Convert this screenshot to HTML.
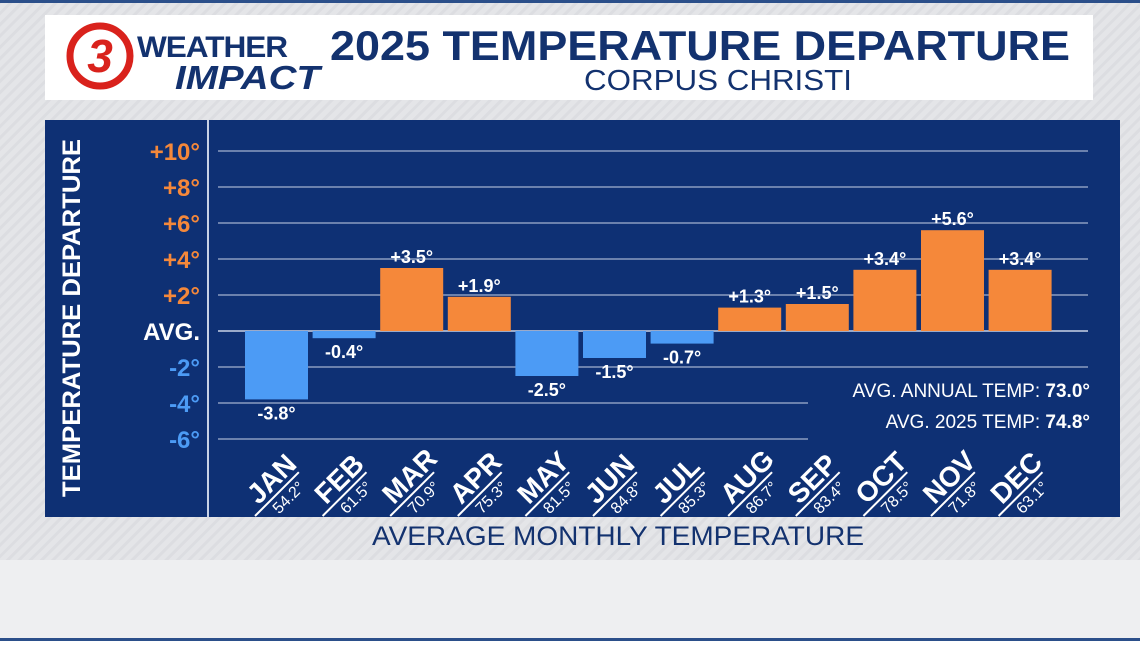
<!DOCTYPE html>
<html><head><meta charset="utf-8"><style>
body{margin:0;width:1140px;height:641px;overflow:hidden;font-family:"Liberation Sans",sans-serif;}
</style></head><body>
<svg width="1140" height="641" xmlns="http://www.w3.org/2000/svg">
<defs><pattern id="st" width="8" height="8" patternUnits="userSpaceOnUse" patternTransform="rotate(45)"><rect width="8" height="8" fill="#e4e5e8"/><rect width="3" height="8" fill="#dcdde1"/></pattern></defs>
<rect width="1140" height="641" fill="url(#st)"/>
<rect y="560" width="1140" height="78" fill="#eeeff1"/>
<rect width="1140" height="3" fill="#2b4f8a"/>
<rect y="638" width="1140" height="3" fill="#2b4f8a"/>
<g>
<rect x="45" y="15" width="1048" height="85" fill="#fff"/>
<circle cx="100" cy="56" r="30" fill="none" stroke="#d9221c" stroke-width="7"/>
<text x="100" y="72" text-anchor="middle" font-size="46" font-weight="bold" fill="#d9221c" font-style="italic">3</text>
<text x="137" y="57" font-size="30" fill="#13326f" font-weight="bold" letter-spacing="-1" textLength="150" lengthAdjust="spacingAndGlyphs">WEATHER</text>
<text x="175" y="89" font-size="33" fill="#13326f" font-weight="bold" font-style="italic" textLength="145" lengthAdjust="spacingAndGlyphs">IMPACT</text>
<text x="330" y="60" font-size="42" font-weight="bold" fill="#13326f" textLength="740" lengthAdjust="spacingAndGlyphs">2025 TEMPERATURE DEPARTURE</text>
<text x="718" y="90" text-anchor="middle" font-size="29" fill="#13326f" textLength="268" lengthAdjust="spacingAndGlyphs">CORPUS CHRISTI</text>
</g>
<rect x="45" y="120" width="1075" height="397" fill="#0e3074"/>
<line x1="208" y1="120" x2="208" y2="517" stroke="#c8d2e6" stroke-width="2"/>
<text transform="translate(80,318) rotate(-90)" text-anchor="middle" font-size="25" font-weight="bold" fill="#fff" textLength="358" lengthAdjust="spacingAndGlyphs">TEMPERATURE DEPARTURE</text>
<g id="grid"></g><g id="ylab"></g><g id="bars"></g><g id="xlab"></g>
<rect x="808" y="370" width="290" height="70" fill="#0e3074"/>
<text x="1090" y="397" text-anchor="end" font-size="19" fill="#fff">AVG. ANNUAL TEMP: <tspan font-weight="bold">73.0°</tspan></text>
<text x="1090" y="428" text-anchor="end" font-size="19" fill="#fff">AVG. 2025 TEMP: <tspan font-weight="bold">74.8°</tspan></text>
<text x="618" y="545" text-anchor="middle" font-size="27" fill="#13326f" textLength="492" lengthAdjust="spacingAndGlyphs">AVERAGE MONTHLY TEMPERATURE</text>
</svg>
<script>
const months=["JAN","FEB","MAR","APR","MAY","JUN","JUL","AUG","SEP","OCT","NOV","DEC"];
const departures=[-3.8,-0.4,3.5,1.9,-2.5,-1.5,-0.7,1.3,1.5,3.4,5.6,3.4];
const monthlyTemps=["54.2°","61.5°","70.9°","75.3°","81.5°","84.8°","85.3°","86.7°","83.4°","78.5°","71.8°","63.1°"];
const yTicks=[10,8,6,4,2,0,-2,-4,-6];
const yTickLabels=["+10°","+8°","+6°","+4°","+2°","AVG.","-2°","-4°","-6°"];
const NS="http://www.w3.org/2000/svg";
const y=v=>331-v*18;
const xL=i=>245+i*67.6;
const BW=63;
function mk(t,a,p){const e=document.createElementNS(NS,t);for(const k in a)e.setAttribute(k,a[k]);p.appendChild(e);return e;}
const grid=document.getElementById('grid'),yl=document.getElementById('ylab'),bars=document.getElementById('bars'),xl=document.getElementById('xlab');
yTicks.forEach((v,i)=>{
 const l=mk('line',{x1:218,x2:1088,y1:y(v),y2:y(v),stroke:'#c8d2e6','stroke-width':v==0?1.5:1},grid);
 
 
 const t=mk('text',{x:200,y:y(v)+9,'text-anchor':'end','font-size':24,'font-weight':'bold',fill:v>0?'#f5883a':v<0?'#4c9bf5':'#fff'},yl);
 t.textContent=yTickLabels[i];
 
 
});
departures.forEach((d,i)=>{
 const x=xL(i),top=Math.min(y(d),y(0)),h=Math.abs(y(d)-y(0));
 const r=mk('rect',{x:x,y:top,width:BW,height:h,fill:d>=0?'#f5883a':'#4c9bf5'},bars);
 
 
 const t=mk('text',{x:x+BW/2,y:d>=0?y(d)-5:y(d)+20,'text-anchor':'middle','font-size':18,'font-weight':'bold',fill:'#fff'},bars);
 t.textContent=(d>0?'+':'')+d.toFixed(1)+'°';
 
 
 const g=mk('g',{transform:`translate(${x+10},516) rotate(-45)`},xl);
 
 
 mk('line',{x1:0,y1:0,x2:62,y2:0,stroke:'#fff','stroke-width':2},g);
 const m=mk('text',{x:10,y:-5,'font-size':28,'font-weight':'bold',fill:'#fff'},g);m.textContent=months[i];
 const v=mk('text',{x:18,y:16,'font-size':16,fill:'#fff'},g);v.textContent=monthlyTemps[i];
});
</script>
</body></html>
